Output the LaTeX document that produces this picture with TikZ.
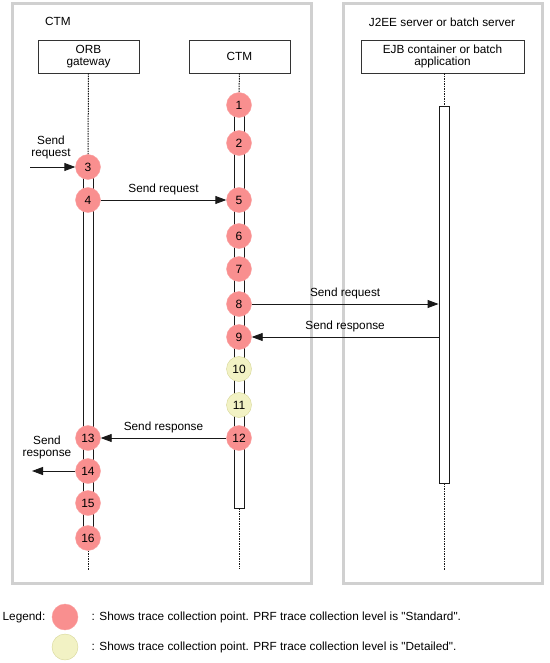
\documentclass[tikz,border=0pt]{standalone}
\usepackage{fontspec}
\setmainfont{Liberation Sans}
\usepackage{tikz}
\usetikzlibrary{positioning}
\usetikzlibrary{arrows.meta}

\definecolor{stdpink}{RGB}{249,143,143}
\definecolor{stdedge}{RGB}{250,160,160}
\definecolor{detyellow}{RGB}{242,242,196}
\definecolor{detedge}{RGB}{214,214,150}
\definecolor{framegray}{RGB}{208,208,208}

\begin{document}
\begin{tikzpicture}[
    x=1pt, y=-1pt,
    font=\fontsize{11.8}{14}\selectfont,
    align=center,
    stdnode/.style={circle, fill=stdpink, draw=stdedge, minimum size=25pt, inner sep=0pt, font=\fontsize{12}{12}\selectfont},
    detnode/.style={circle, fill=detyellow, draw=detedge, minimum size=25pt, inner sep=0pt, font=\fontsize{12}{12}\selectfont},
    headbox/.style={draw=black!80, fill=white, minimum width=101pt, minimum height=33pt, inner sep=1pt},
    actbar/.style={draw=black!90, fill=white, line width=0.9pt, minimum width=10pt, inner sep=0pt},
    lifeline/.style={draw=black!90, line width=1pt, dash pattern=on 1.5pt off 1pt},
    frame/.style={draw=framegray, line width=3pt},
    msg/.style={draw=black!90, line width=0.9pt, -{Triangle[length=11pt,width=8pt]}}
    ]
    \useasboundingbox (0,0) rectangle (549,663);

    %Frames
    \draw[frame] (12,4) rectangle (311,583);
    \draw[frame] (343,4) rectangle (542,583);
    \node (ctmtitle) at (58,21) {CTM};
    \node (j2eetitle) at (442,22) {J2EE server or batch server};

    %Nodes
    \node[headbox] (orb) at (88.5,56.5) {ORB\\[-2pt]gateway};
    \node[headbox] (ctm) at (239.5,56.5) {CTM};
    \node[headbox, minimum width=163pt] (ejb) at (442.5,56.5) {EJB container or batch\\[-2pt]application};

    \node[actbar, minimum height=371pt] (orbbar) at (88,352.5) {};
    \node[actbar, minimum height=403pt] (ctmbar) at (239,306.5) {};
    \node[actbar, minimum height=377pt] (ejbbar) at (444,294.5) {};

    \coordinate (orbend) at (88,570);
    \coordinate (ctmend) at (239,569);
    \coordinate (ejbend) at (444,570);

    %Lifelines
    \draw[lifeline] (orb.south) -- (88,155);
    \draw[lifeline] (ctm.south) -- (239,92);
    \draw[lifeline] (ejb.south -| ejbbar.north) -- (ejbbar.north);
    \draw[lifeline] (88,538) -- (orbend);
    \draw[lifeline] (ctmbar.south) -- (ctmend);
    \draw[lifeline] (ejbbar.south) -- (ejbend);

    %Trace points
    \node[stdnode] (1) at (239,105) {1};
    \node[stdnode] (2) at (239,143) {2};
    \node[stdnode] (3) at (88,167) {3};
    \node[stdnode] (4) at (88,200) {4};
    \node[stdnode] (5) at (239,200) {5};
    \node[stdnode] (6) at (239,236) {6};
    \node[stdnode] (7) at (239,269) {7};
    \node[stdnode] (8) at (239,304) {8};
    \node[stdnode] (9) at (239,337) {9};
    \node[detnode] (10) at (239,369) {10};
    \node[detnode] (11) at (239,405) {11};
    \node[stdnode] (12) at (239,438) {12};
    \node[stdnode] (13) at (88,438) {13};
    \node[stdnode] (14) at (88,471) {14};
    \node[stdnode] (15) at (88,503) {15};
    \node[stdnode] (16) at (88,538) {16};

    %Lines
    \coordinate (reqin) at (30,167);
    \coordinate (respout) at (32,471);
    \draw[msg] (reqin) -- (3);
    \node (reqinlabel) at (51,147) {Send\\[-2pt]request};
    \draw[msg] (4) -- node[above=1pt]{Send request} (5);
    \draw[msg] (8) -- node[above=1pt]{Send request} (8 -| ejbbar.west);
    \draw[msg] (9 -| ejbbar.west) -- node[above=1pt]{Send response} (9);
    \draw[msg] (12) -- node[above=1pt]{Send response} (13);
    \draw[msg] (14) -- (respout);
    \node (respoutlabel) at (47,447) {Send\\[-2pt]response};

    %Legend
    \node (legend) at (24,617) {Legend:};
    \node[stdnode, minimum size=26pt] (legstd) at (65,617) {};
    \node[detnode, minimum size=26pt] (legdet) at (65,647) {};
    \node[right=10pt of legstd] (legstdtext) {: Shows trace collection point. PRF trace collection level is \textquotedbl Standard\textquotedbl.};
    \node[right=10pt of legdet] (legdettext) {: Shows trace collection point. PRF trace collection level is \textquotedbl Detailed\textquotedbl.};
\end{tikzpicture}
\end{document}
